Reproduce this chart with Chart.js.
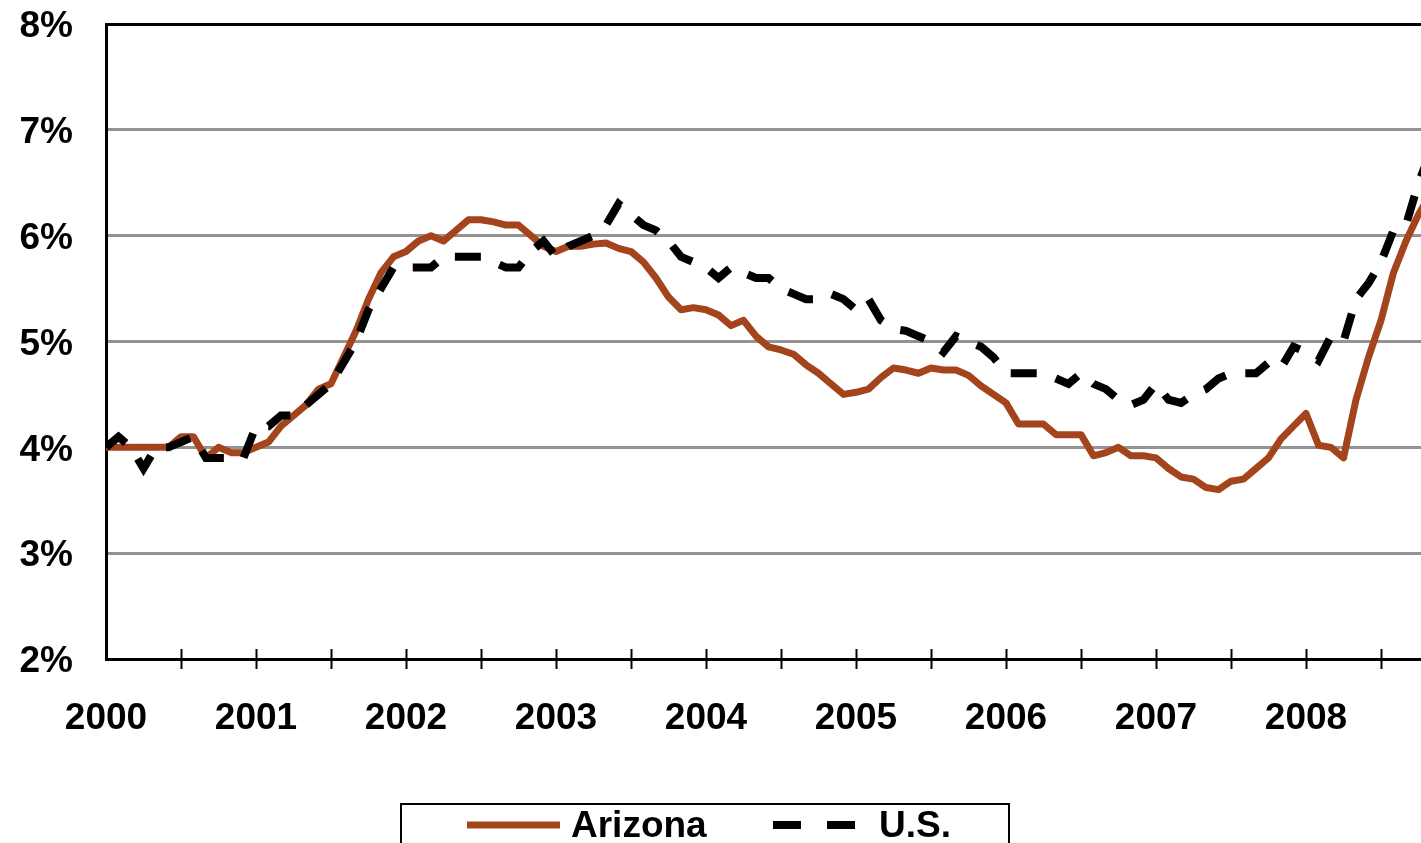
<!DOCTYPE html>
<html>
<head>
<meta charset="utf-8">
<title>Unemployment Rate: Arizona vs U.S.</title>
<script src="https://cdn.jsdelivr.net/npm/chart.js@4/dist/chart.umd.min.js"></script>
<style>
  html, body { margin: 0; padding: 0; background: #fff; overflow: hidden; }
  #wrap { position: absolute; left: 0; top: 0; width: 1456px; height: 860px; }
</style>
</head>
<body>
<div id="wrap"><canvas id="chart" width="1456" height="860"></canvas></div>
<script>
// Monthly unemployment rate (%), starting January 2000
const arizona = [
  // 2000
  4.0, 4.0, 4.0, 4.0, 4.0, 4.0, 4.1, 4.1, 3.9, 4.0, 3.95, 3.95,
  // 2001
  4.0, 4.05, 4.2, 4.3, 4.4, 4.55, 4.6, 4.85, 5.1, 5.4, 5.65, 5.8,
  // 2002
  5.85, 5.95, 6.0, 5.95, 6.05, 6.15, 6.15, 6.13, 6.1, 6.1, 6.0, 5.9,
  // 2003
  5.85, 5.9, 5.9, 5.92, 5.93, 5.88, 5.85, 5.75, 5.6, 5.42, 5.3, 5.32,
  // 2004
  5.3, 5.25, 5.15, 5.2, 5.05, 4.95, 4.92, 4.88, 4.78, 4.7, 4.6, 4.5,
  // 2005
  4.52, 4.55, 4.66, 4.75, 4.73, 4.7, 4.75, 4.73, 4.73, 4.68, 4.58, 4.5,
  // 2006
  4.42, 4.22, 4.22, 4.22, 4.12, 4.12, 4.12, 3.92, 3.95, 4.0, 3.92, 3.92,
  // 2007
  3.9, 3.8, 3.72, 3.7, 3.62, 3.6, 3.68, 3.7, 3.8, 3.9, 4.08, 4.2,
  // 2008
  4.32, 4.02, 4.0, 3.9, 4.45, 4.85, 5.2, 5.65, 5.95, 6.2, 6.4
];

const us = [
  // 2000
  4.0, 4.1, 4.0, 3.8, 4.0, 4.0, 4.05, 4.1, 3.9, 3.9, 3.9, 3.9,
  // 2001
  4.2, 4.2, 4.3, 4.3, 4.4, 4.5, 4.6, 4.8, 5.0, 5.3, 5.5, 5.7,
  // 2002
  5.7, 5.7, 5.7, 5.8, 5.8, 5.8, 5.8, 5.75, 5.7, 5.7, 5.85, 5.95,
  // 2003
  5.8, 5.9, 5.95, 6.0, 6.1, 6.3, 6.2, 6.1, 6.05, 5.95, 5.8, 5.75,
  // 2004
  5.7, 5.6, 5.7, 5.65, 5.6, 5.6, 5.5, 5.45, 5.4, 5.4, 5.45, 5.4,
  // 2005
  5.3, 5.4, 5.2, 5.12, 5.1, 5.05, 5.0, 4.9, 5.05, 5.0, 4.95, 4.85,
  // 2006
  4.7, 4.7, 4.7, 4.7, 4.65, 4.6, 4.7, 4.6, 4.55, 4.45, 4.4, 4.45,
  // 2007
  4.6, 4.45, 4.42, 4.5, 4.55, 4.65, 4.7, 4.7, 4.7, 4.8, 4.75, 4.95,
  // 2008
  4.9, 4.82, 5.05, 5.0, 5.4, 5.55, 5.75, 6.05, 6.1, 6.5, 6.8
];

const yearLabels = ['2000', '2001', '2002', '2003', '2004', '2005', '2006', '2007', '2008'];
const seriesNames = ['Arizona', 'U.S.'];

const FONT = "'Liberation Sans', Arial, Helvetica, sans-serif";
const AZ_COLOR = '#A3441C';
const US_COLOR = '#000000';
const CLEAR = 'rgba(0,0,0,0)';

// month index -> {x, y}
const toPoints = arr => arr.map((v, i) => ({ x: i, y: v }));

// Tick marks that cross the x axis line (above and below)
const crossTicks = {
  id: 'crossTicks',
  afterDatasetsDraw(chart) {
    const xs = chart.scales.x;
    const ctx = chart.ctx;
    const yAxis = chart.chartArea.bottom;
    ctx.save();
    ctx.strokeStyle = '#000';
    ctx.lineWidth = 2;
    xs.ticks.forEach(t => {
      if (t.value <= xs.min) return;
      const px = Math.round(xs.getPixelForValue(t.value)) + 0.5;
      ctx.beginPath();
      ctx.moveTo(px, yAxis - 10);
      ctx.lineTo(px, yAxis + 10);
      ctx.stroke();
    });
    ctx.restore();
  }
};

// Boxed legend at the bottom
const boxedLegend = {
  id: 'boxedLegend',
  afterDraw(chart) {
    const ctx = chart.ctx;
    const ds = chart.data.datasets;
    ctx.save();
    ctx.strokeStyle = '#000';
    ctx.lineWidth = 2;
    ctx.setLineDash([]);
    ctx.strokeRect(401, 804, 608, 52);

    const cy = 825;
    ctx.font = 'bold 37px ' + FONT;
    ctx.textBaseline = 'middle';
    ctx.fillStyle = '#000';

    // Arizona sample
    ctx.strokeStyle = ds[0].borderColor;
    ctx.lineWidth = 7;
    ctx.beginPath();
    ctx.moveTo(467, cy);
    ctx.lineTo(560, cy);
    ctx.stroke();
    ctx.fillText(ds[0].label, 571, cy + 2);

    // U.S. sample
    ctx.strokeStyle = ds[1].borderColor;
    ctx.lineWidth = 8;
    ctx.setLineDash([28, 26]);
    ctx.beginPath();
    ctx.moveTo(773, cy);
    ctx.lineTo(860, cy);
    ctx.stroke();
    ctx.setLineDash([]);
    ctx.fillText(ds[1].label, 879, cy + 2);
    ctx.restore();
  }
};

new Chart(document.getElementById('chart'), {
  type: 'line',
  data: {
    datasets: [
      {
        label: seriesNames[0],
        data: toPoints(arizona),
        borderColor: AZ_COLOR,
        backgroundColor: AZ_COLOR,
        borderWidth: 7,
        pointRadius: 0,
        tension: 0,
        borderJoinStyle: 'round',
        order: 2
      },
      {
        label: seriesNames[1],
        data: toPoints(us),
        borderColor: US_COLOR,
        backgroundColor: US_COLOR,
        borderWidth: 8,
        borderDash: [26, 20],
        pointRadius: 0,
        tension: 0,
        order: 1
      }
    ]
  },
  options: {
    responsive: false,
    devicePixelRatio: 1,
    animation: false,
    events: [],
    layout: {
      autoPadding: false,
      padding: { top: 24, left: 0, right: 0, bottom: 101 }
    },
    plugins: {
      legend: { display: false },
      tooltip: { enabled: false },
      title: { display: false }
    },
    scales: {
      x: {
        type: 'linear',
        min: 0,
        max: 108,
        afterFit: s => { s.height = 100; },
        grid: {
          display: true,
          drawOnChartArea: false,
          drawTicks: true,
          tickLength: 38,
          tickColor: CLEAR,
          color: CLEAR
        },
        border: { display: true, color: '#000', width: 3 },
        ticks: {
          stepSize: 6,
          autoSkip: false,
          maxRotation: 0,
          padding: 0,
          color: '#000',
          font: { family: FONT, size: 37, weight: 'bold' },
          callback: v => (v % 12 === 0 && yearLabels[v / 12] ? yearLabels[v / 12] : '')
        }
      },
      y: {
        min: 2,
        max: 8,
        afterFit: s => { s.width = 106; },
        grid: {
          drawTicks: true,
          tickLength: 33,
          tickColor: CLEAR,
          lineWidth: 3,
          color: c => (c.tick && (c.tick.value === 8 || c.tick.value === 2) ? '#000' : '#939393')
        },
        border: { display: true, color: '#000', width: 3 },
        ticks: {
          stepSize: 1,
          padding: 0,
          labelOffset: 3,
          color: '#000',
          font: { family: FONT, size: 37, weight: 'bold' },
          callback: v => v + '%'
        }
      }
    }
  },
  plugins: [crossTicks, boxedLegend]
});
</script>
</body>
</html>
